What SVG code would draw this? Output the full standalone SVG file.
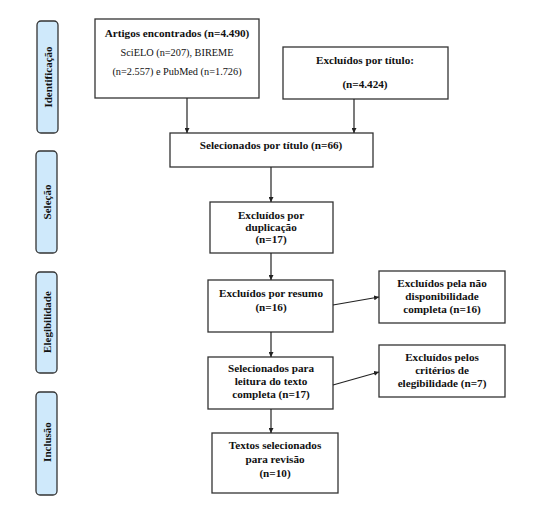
<svg xmlns="http://www.w3.org/2000/svg" width="538" height="515" viewBox="0 0 538 515">
<style>
.box{fill:#fff;stroke:#333;stroke-width:1.3}
.side{fill:#cfe9fb;stroke:#333;stroke-width:1.3}
text{font-family:"Liberation Serif","DejaVu Serif",serif;font-size:10.3px;fill:#111;text-anchor:middle}
.b{font-weight:bold;font-size:11.2px}
.sl{font-weight:bold;font-size:11px}
.c{stroke:#222;stroke-width:1.2;fill:none;marker-end:url(#ah)}
</style>
<defs>
<marker id="ah" viewBox="0 0 8 8" refX="8" refY="4" markerWidth="5" markerHeight="5" markerUnits="userSpaceOnUse" orient="auto"><path d="M0,0L8,4L0,8Z" fill="#222"/></marker>
</defs>
<rect width="538" height="515" fill="#fff"/>
<g id="lab-identificacao"><rect class="side" x="37" y="21" width="21" height="112" rx="4"/><text class="sl" transform="translate(51.5,77) rotate(-90)">Identificação</text></g>
<g id="lab-selecao"><rect class="side" x="36" y="151" width="21" height="102" rx="4"/><text class="sl" transform="translate(50.5,202) rotate(-90)">Seleção</text></g>
<g id="lab-elegibilidade"><rect class="side" x="36" y="272" width="21" height="101" rx="4"/><text class="sl" transform="translate(50.5,322) rotate(-90)">Elegibilidade</text></g>
<g id="lab-inclusao"><rect class="side" x="36" y="392" width="21" height="103" rx="4"/><text class="sl" transform="translate(50.5,442) rotate(-90)">Inclusão</text></g>

<g id="n1"><rect class="box" x="95" y="19" width="164" height="79"/>
<text class="b" x="177" y="37">Artigos encontrados (n=4.490)</text>
<text x="177" y="56">SciELO (n=207), BIREME</text>
<text x="177" y="75">(n=2.557) e PubMed (n=1.726)</text></g>
<g id="n2"><rect class="box" x="283" y="47" width="165" height="52"/>
<text class="b" x="365" y="64">Excluídos por título:</text>
<text class="b" x="365" y="88">(n=4.424)</text></g>
<g id="n3"><rect class="box" x="170" y="133" width="203" height="34"/>
<text class="b" x="271" y="149">Selecionados por título (n=66)</text></g>
<g id="n4"><rect class="box" x="210" y="202" width="123" height="51"/>
<text class="b" x="271" y="219">Excluídos por</text>
<text class="b" x="271" y="231">duplicação</text>
<text class="b" x="271" y="243">(n=17)</text></g>
<g id="n5"><rect class="box" x="208" y="280" width="125" height="52"/>
<text class="b" x="271" y="297">Excluídos por resumo</text>
<text class="b" x="271" y="311">(n=16)</text></g>
<g id="n6"><rect class="box" x="379" y="271" width="126" height="52"/>
<text class="b" x="442" y="287">Excluídos pela não</text>
<text class="b" x="442" y="300">disponibilidade</text>
<text class="b" x="442" y="313">completa (n=16)</text></g>
<g id="n7"><rect class="box" x="208" y="357" width="125" height="52"/>
<text class="b" x="271" y="372">Selecionados para</text>
<text class="b" x="271" y="385">leitura do texto</text>
<text class="b" x="271" y="398">completa (n=17)</text></g>
<g id="n8"><rect class="box" x="379" y="345" width="126" height="52"/>
<text class="b" x="442" y="361">Excluídos pelos</text>
<text class="b" x="442" y="374">critérios de</text>
<text class="b" x="442" y="387">elegibilidade (n=7)</text></g>
<g id="n9"><rect class="box" x="212" y="433" width="126" height="60"/>
<text class="b" x="275" y="449">Textos selecionados</text>
<text class="b" x="275" y="463">para revisão</text>
<text class="b" x="275" y="477">(n=10)</text></g>

<g id="connectors">
<path class="c" d="M187,98V133"/>
<path class="c" d="M354,99V133"/>
<path class="c" d="M271,167V202"/>
<path class="c" d="M271,253V280"/>
<path class="c" d="M333,305L379,297"/>
<path class="c" d="M271,332V357"/>
<path class="c" d="M333,385L379,372"/>
<path class="c" d="M271,409V433"/>
</g>
</svg>
